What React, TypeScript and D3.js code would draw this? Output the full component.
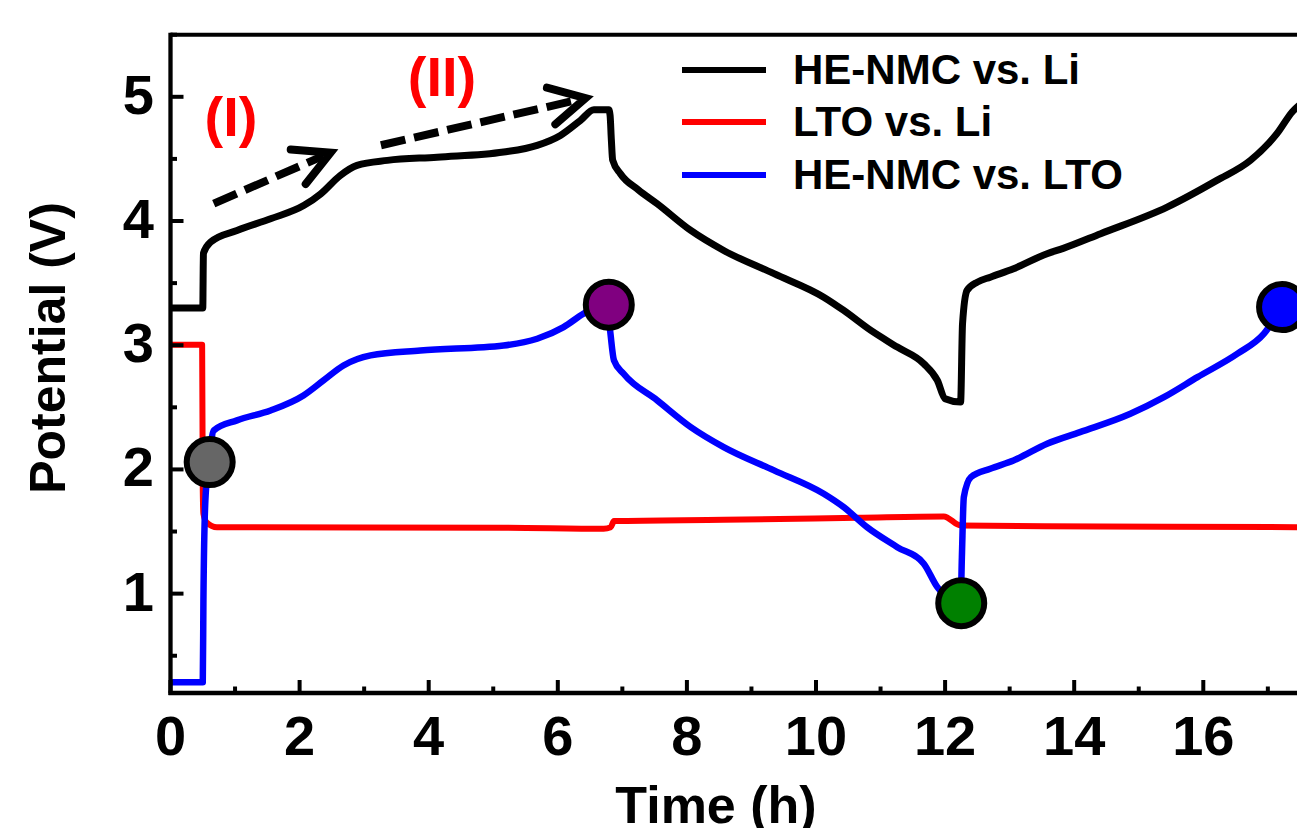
import React from "react";
import * as d3 from "d3";

// ---- Data ----
const nmcLiTime = [0, 0.5, 0.51, 0.62, 1.03, 1.55, 2.07, 2.33, 2.63, 2.89, 3.36, 4.13, 5.16, 5.68, 6.04, 6.35, 6.56, 6.79, 6.81, 6.83, 6.85, 6.97, 7.25, 7.54, 8.06, 8.57, 9.35, 10.12, 10.43, 10.85, 11.26, 11.67, 11.88, 12.0, 12.24, 12.27, 12.34, 12.5, 12.7, 13.06, 13.58, 13.83, 14.41, 15.44, 16.21, 16.73, 17.14, 17.38, 17.6];
const nmcLiV = [3.3, 3.3, 3.74, 3.83, 3.924, 4.018, 4.126, 4.22, 4.367, 4.448, 4.488, 4.514, 4.555, 4.609, 4.689, 4.81, 4.896, 4.896, 4.85, 4.65, 4.49, 4.381, 4.25, 4.139, 3.924, 3.763, 3.576, 3.387, 3.28, 3.119, 2.985, 2.851, 2.717, 2.569, 2.542, 3.173, 3.441, 3.508, 3.548, 3.616, 3.737, 3.78, 3.898, 4.112, 4.327, 4.488, 4.703, 4.88, 4.98];

const ltoLiTime = [0, 0.49, 0.5, 0.51, 0.56, 0.72, 5.16, 6.71, 6.82, 6.87, 8.57, 10.64, 11.98, 12.24, 14.41, 17.46, 17.65];
const ltoLiV = [3.004, 3.004, 1.831, 1.643, 1.573, 1.535, 1.531, 1.523, 1.535, 1.584, 1.595, 1.611, 1.622, 1.549, 1.541, 1.535, 1.535];

const nmcLtoTime = [0, 0.5, 0.51, 0.54, 0.59, 0.67, 1.03, 1.55, 2.06, 2.37, 2.68, 3.1, 3.87, 5.16, 5.68, 6.09, 6.4, 6.76, 6.81, 6.87, 7.02, 7.54, 8.06, 8.57, 9.35, 10.12, 10.43, 10.79, 11.26, 11.67, 11.88, 12.24, 12.26, 12.29, 12.4, 12.7, 13.06, 13.58, 14.09, 14.87, 15.39, 15.91, 16.53, 16.94, 17.22];
const nmcLtoV = [0.287, 0.287, 0.945, 1.75, 2.03, 2.314, 2.395, 2.475, 2.596, 2.717, 2.837, 2.918, 2.958, 2.998, 3.052, 3.146, 3.254, 3.334, 3.119, 2.878, 2.77, 2.556, 2.341, 2.18, 1.992, 1.804, 1.696, 1.535, 1.374, 1.241, 1.052, 0.923, 1.294, 1.777, 1.938, 2.006, 2.072, 2.207, 2.3, 2.448, 2.582, 2.743, 2.932, 3.093, 3.307];

const markerTime = [0.607, 6.79, 12.25, 17.22];
const markerV = [2.059, 3.326, 0.923, 3.307];
const markerColor = ["#666666", "#800080", "#008000", "#0000ff"];

const seriesNames = ["HE-NMC vs. Li", "LTO vs. Li", "HE-NMC vs. LTO"];
const seriesColors = ["#000000", "#ff0000", "#0000ff"];

const xMajorTicks = [0, 2, 4, 6, 8, 10, 12, 14, 16];
const xMinorTicks = [1, 3, 5, 7, 9, 11, 13, 15, 17];
const yMajorTicks = [1, 2, 3, 4, 5];
const yMinorTicks = [0.5, 1.5, 2.5, 3.5, 4.5, 5.5];

// arrows in data coords: [t0, v0, t1, v1]
const arrow1 = [0.67, 4.14, 2.48, 4.55];
const arrow2 = [3.26, 4.61, 6.43, 4.99];

const W = 1297;
const H = 828;
const left = 170.5;
const top = 34.7;
const bottom = 693;
const right = 170.5 + 64.55 * 17.6;

const FONT = "'Liberation Sans', Arial, Helvetica, sans-serif";

export default function App() {
  const x = d3.scaleLinear().domain([0, 17.6]).range([left, right]);
  const y = d3.scaleLinear().domain([0.2, 5.5]).range([bottom, top]);

  const line = d3
    .line<[number, number]>()
    .x((d) => x(d[0]))
    .y((d) => y(d[1]))
    .curve(d3.curveMonotoneX);

  const zip = (a: number[], b: number[]) => a.map((t, i) => [t, b[i]] as [number, number]);
  const series = [zip(nmcLiTime, nmcLiV), zip(ltoLiTime, ltoLiV), zip(nmcLtoTime, nmcLtoV)];
  const widths = [7, 6, 6.5];

  const arrowEl = (a: number[], key: string) => {
    const x0 = x(a[0]), y0 = y(a[1]), x1 = x(a[2]), y1 = y(a[3]);
    const ang = Math.atan2(y1 - y0, x1 - x0);
    const L = 40, spread = (28 * Math.PI) / 180;
    const p1 = [x1 - L * Math.cos(ang - spread), y1 - L * Math.sin(ang - spread)];
    const p2 = [x1 - L * Math.cos(ang + spread), y1 - L * Math.sin(ang + spread)];
    const sx = x1 - 8 * Math.cos(ang), sy = y1 - 8 * Math.sin(ang);
    return (
      <g key={key}>
        <line x1={x0} y1={y0} x2={sx} y2={sy} stroke="#000" strokeWidth={8} strokeDasharray="25 9" />
        <polyline
          points={`${p1[0]},${p1[1]} ${x1},${y1} ${p2[0]},${p2[1]}`}
          fill="none"
          stroke="#000"
          strokeWidth={8}
          strokeLinecap="round"
          strokeLinejoin="miter"
        />
      </g>
    );
  };

  return (
    <div style={{ position: "absolute", left: 0, top: 0 }}>
      <svg width={W} height={H} style={{ display: "block", background: "#fff" }}>
        <defs>
          <clipPath id="plotClip">
            <rect x={left} y={top} width={W - left} height={bottom - top} />
          </clipPath>
        </defs>
        <rect x={0} y={0} width={W} height={H} fill="#fff" />

        {/* curves */}
        <g clipPath="url(#plotClip)">
          {series.map((s, i) => (
            <path
              key={i}
              d={line(s) || ""}
              fill="none"
              stroke={seriesColors[i]}
              strokeWidth={widths[i]}
              strokeLinejoin="round"
              strokeLinecap="round"
            />
          ))}
        </g>

        {/* markers */}
        {markerTime.map((t, i) => (
          <circle key={i} cx={x(t)} cy={y(markerV[i])} r={23} fill={markerColor[i]} stroke="#000" strokeWidth={6} />
        ))}

        {/* arrows */}
        {arrowEl(arrow1, "a1")}
        {arrowEl(arrow2, "a2")}

        {/* annotations */}
        <text x={231} y={136} fill="#ff0000" fontFamily={FONT} fontWeight="bold" fontSize={56} textAnchor="middle">
          (I)
        </text>
        <text x={442} y={96} fill="#ff0000" fontFamily={FONT} fontWeight="bold" fontSize={56} textAnchor="middle">
          (II)
        </text>

        {/* legend */}
        {seriesNames.map((n, i) => {
          const ly = [70, 122, 175][i];
          return (
            <g key={n}>
              <line x1={682} x2={766} y1={ly} y2={ly} stroke={seriesColors[i]} strokeWidth={6} />
              <text x={793} y={ly + 14} fontFamily={FONT} fontWeight="bold" fontSize={42} fill="#000">
                {n}
              </text>
            </g>
          );
        })}

        {/* axes frame */}
        <line x1={left} x2={W} y1={top} y2={top} stroke="#000" strokeWidth={4} />
        <line x1={left} x2={left} y1={top - 2} y2={bottom + 2} stroke="#000" strokeWidth={4.3} />
        <line x1={left - 2} x2={W} y1={bottom} y2={bottom} stroke="#000" strokeWidth={4.3} />

        {/* x ticks */}
        {xMajorTicks.map((t) => (
          <g key={"xm" + t}>
            <line x1={x(t)} x2={x(t)} y1={bottom} y2={bottom - 13} stroke="#000" strokeWidth={4} />
            <text x={x(t)} y={755} textAnchor="middle" fontFamily={FONT} fontWeight="bold" fontSize={56} fill="#000">
              {t}
            </text>
          </g>
        ))}
        {xMinorTicks.map((t) => (
          <line key={"xn" + t} x1={x(t)} x2={x(t)} y1={bottom} y2={bottom - 6.5} stroke="#000" strokeWidth={4} />
        ))}

        {/* y ticks */}
        {yMajorTicks.map((v) => (
          <g key={"ym" + v}>
            <line x1={left} x2={left + 13} y1={y(v)} y2={y(v)} stroke="#000" strokeWidth={4} />
            <text x={154} y={y(v) + 17} textAnchor="end" fontFamily={FONT} fontWeight="bold" fontSize={56} fill="#000">
              {v}
            </text>
          </g>
        ))}
        {yMinorTicks.map((v) => (
          <line key={"yn" + v} x1={left} x2={left + 6.5} y1={y(v)} y2={y(v)} stroke="#000" strokeWidth={4} />
        ))}

        {/* axis titles */}
        <text
          transform={`translate(65, 348) rotate(-90)`}
          textAnchor="middle"
          fontFamily={FONT}
          fontWeight="bold"
          fontSize={50}
          fill="#000"
        >
          Potential (V)
        </text>
        <text x={716} y={823} textAnchor="middle" fontFamily={FONT} fontWeight="bold" fontSize={52} fill="#000">
          Time (h)
        </text>
      </svg>
    </div>
  );
}
